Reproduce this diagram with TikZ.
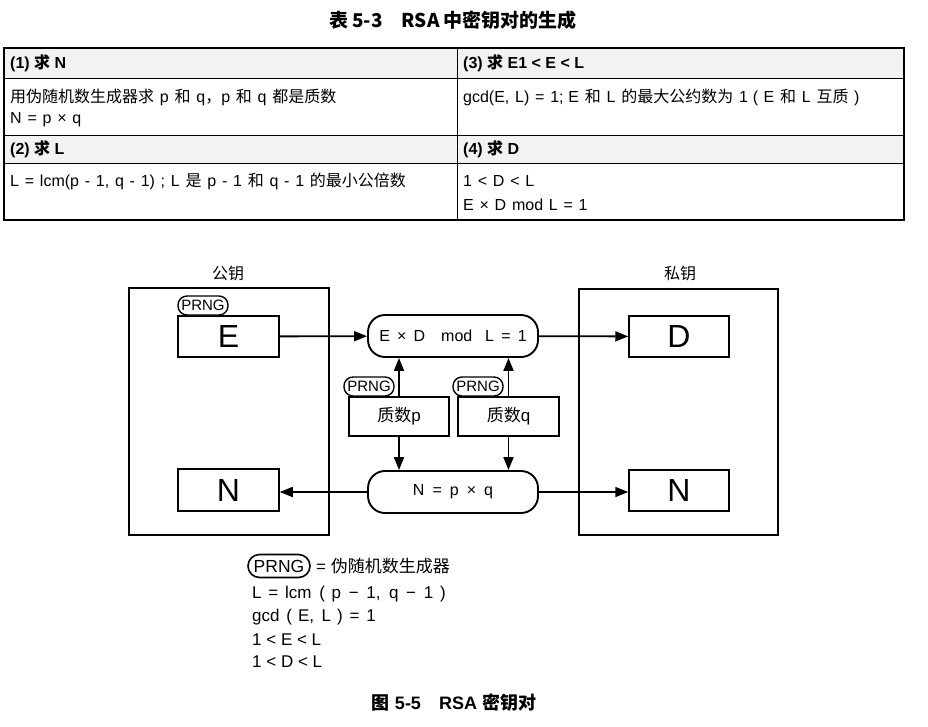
\documentclass[tikz,border=0pt]{standalone}
\usepackage{fontspec}
\setmainfont{Liberation Sans}
\newfontfamily\cjk{Noto Sans CJK SC}
\newcommand\zhtxt[1]{{\cjk #1}}
\newcommand\tabfont{\fontsize{16}{16}\selectfont\spaceskip=0.36em\relax}
\usetikzlibrary{arrows.meta}
\tikzset{
 sq/.style={draw, line width=1.5pt, inner sep=0pt, fill=white},
 bigbox/.style={draw, line width=1.5pt, inner sep=0pt},
 pill/.style={draw, line width=1.4pt, rounded corners=9pt, inner sep=0pt, fill=white, minimum width=50pt, minimum height=19pt, font=\fontsize{15}{15}\selectfont},
 rbox/.style={draw, line width=1.9pt, rounded corners=17pt, minimum width=170pt, minimum height=42pt, inner sep=0pt, font=\fontsize{16}{16}\selectfont},
 arr/.style={line width=1.8pt, -{Triangle[length=13pt,width=10pt]}},
 letter/.style={sq, font=\fontsize{32}{32}\selectfont},
 smallbox/.style={sq, minimum width=100pt, minimum height=39pt, font=\fontsize{17}{17}\selectfont},
 tabtxt/.style={anchor=west, inner sep=0pt, font=\tabfont},
 tabhead/.style={anchor=west, inner sep=0pt, font=\fontsize{16}{16}\selectfont\bfseries},
 legtxt/.style={anchor=west, inner sep=0pt, font=\fontsize{17}{17}\selectfont},
 keylabel/.style={inner sep=0pt, font=\cjk\fontsize{16}{16}\selectfont},
}
\begin{document}
\begin{tikzpicture}[x=1pt,y=-1pt]
\useasboundingbox (0,0) rectangle (928,726);
% ---------- table ----------
\node[inner sep=0pt, font=\cjk\fontsize{19}{19}\selectfont\bfseries] (ttitle) at (453,20) {表 5-3\hspace{1em}RSA 中密钥对的生成};
\fill[gray!10] (4,48) rectangle (904,78);
\fill[gray!10] (4,135) rectangle (904,163);
\draw[line width=0.9pt] (4,78) -- (904,78) (4,135) -- (904,135) (4,163) -- (904,163) (457,48) -- (457,220);
\draw[line width=1.6pt] (4,48) rectangle (904,220);
\node[tabhead] (h1) at (10,63) {(1) \zhtxt{\bfseries 求} N};
\node[tabhead] (h3) at (463,63) {(3) \zhtxt{\bfseries 求} E1 < E < L};
\node[tabtxt] (b1a) at (10,97) {\zhtxt{用伪随机数生成器求} p \zhtxt{和} q\zhtxt{，}p \zhtxt{和} q \zhtxt{都是质数}};
\node[tabtxt] (b1b) at (10,120) {N = p × q};
\node[tabtxt] (b3a) at (463,97) {gcd(E, L) = 1;\hspace{0.3em}E \zhtxt{和} L \zhtxt{的最大公约数为} 1\hspace{0.3em}(\hspace{0.35em}E \zhtxt{和} L \zhtxt{互质}\hspace{0.35em})};
\node[tabhead] (h2) at (10,149) {(2) \zhtxt{\bfseries 求} L};
\node[tabhead] (h4) at (463,149) {(4) \zhtxt{\bfseries 求} D};
\node[tabtxt] (b2a) at (10,181) {L = lcm(p - 1, q - 1) ; L \zhtxt{是} p - 1 \zhtxt{和} q - 1 \zhtxt{的最小公倍数}};
\node[tabtxt] (b4a) at (463,181) {1 < D < L};
\node[tabtxt] (b4b) at (463,205) {E × D mod L = 1};
% ---------- diagram ----------
\node[keylabel] (publ) at (228,273) {公钥};
\node[keylabel] (privl) at (680,273) {私钥};
\node[bigbox, minimum width=200pt, minimum height=247pt] (pub) at (229,411.5) {};
\node[bigbox, minimum width=199pt, minimum height=246pt] (priv) at (678.5,412) {};
\node[letter, minimum width=101pt, minimum height=41pt] (E) at (228.5,336.5) {E};
\node[letter, minimum width=101pt, minimum height=42pt] (Nl) at (228.5,490) {N};
\node[letter, minimum width=100pt, minimum height=41pt] (D) at (679,336.5) {D};
\node[letter, minimum width=100pt, minimum height=41pt] (Nr) at (679,490.5) {N};
\node[pill] (prng1) at (203,305.5) {PRNG};
\node[rbox] (ExD) at (453,336) {E\hspace{0.45em}×\hspace{0.45em}D\hspace{1em}mod\hspace{0.8em}L\hspace{0.45em}=\hspace{0.45em}1};
\node[rbox] (Npq) at (453,492) {N\hspace{0.5em}=\hspace{0.5em}p\hspace{0.5em}×\hspace{0.5em}q};
\node[smallbox] (P) at (399,416.5) {\zhtxt{质数}p};
\node[smallbox, minimum width=101pt] (Q) at (508.5,416.5) {\zhtxt{质数}q};
\node[pill] (prng2) at (369,386.5) {PRNG};
\node[pill] (prng3) at (478,386.5) {PRNG};
\draw[arr] (E) -- (ExD);
\draw[arr] (ExD) -- (D);
\draw[arr] (Npq.west) -- (Nl.east |- Npq.west);
\draw[arr] (Npq.east) -- (Nr.west |- Npq.east);
\draw[arr] (P.north) -- (P.north |- ExD.south);
\draw[arr] (Q.north) -- (Q.north |- ExD.south);
\draw[arr] (P.south) -- (P.south |- Npq.north);
\draw[arr] (Q.south) -- (Q.south |- Npq.north);
% ---------- legend ----------
\node[pill, minimum width=62pt, minimum height=23pt, rounded corners=11.5pt, line width=1.6pt, font=\fontsize{17.5}{17.5}\selectfont] (lp) at (279,566) {PRNG};
\node[legtxt] (l0) at (316,566) {= \zhtxt{伪随机数生成器}};
\node[legtxt] (l1) at (252,594) {L\hspace{0.4em}=\hspace{0.4em}lcm\hspace{0.45em}(\hspace{0.4em}p\hspace{0.45em}−\hspace{0.45em}1,\hspace{0.5em}q\hspace{0.45em}−\hspace{0.45em}1\hspace{0.4em})};
\node[legtxt] (l2) at (252,617) {gcd\hspace{0.4em}(\hspace{0.35em}E,\hspace{0.45em}L\hspace{0.35em})\hspace{0.4em}=\hspace{0.4em}1};
\node[legtxt] (l3) at (252,640) {1 < E < L};
\node[legtxt] (l4) at (252,662) {1 < D < L};
\node[inner sep=0pt, font=\fontsize{18}{18}\selectfont\bfseries] (cap) at (454,703) {\zhtxt{\bfseries 图} 5-5\hspace{1em}RSA \zhtxt{\bfseries 密钥对}};
\end{tikzpicture}
\end{document}
